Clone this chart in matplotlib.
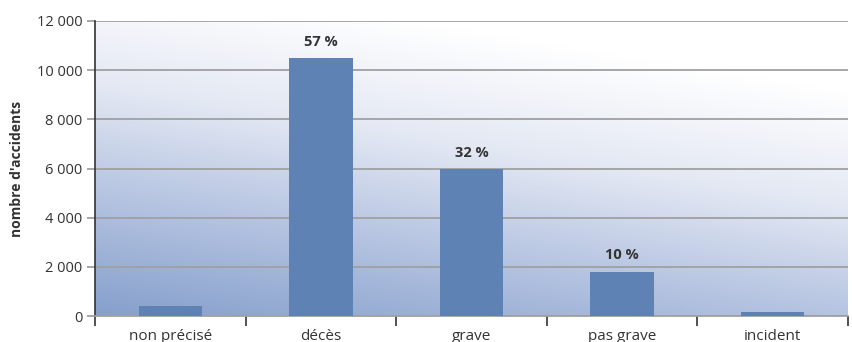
import numpy as np
import matplotlib.pyplot as plt
from matplotlib.colors import LinearSegmentedColormap

categories = ["non précisé", "décès", "grave", "pas grave", "incident"]
values = [410, 10490, 5960, 1800, 170]
pct_labels = ["", "57 %", "32 %", "10 %", ""]
y_ticks = [0, 2000, 4000, 6000, 8000, 10000, 12000]
y_tick_labels = ["0", "2 000", "4 000", "6 000", "8 000", "10 000", "12 000"]

plt.rcParams['font.family'] = ['Open Sans', 'DejaVu Sans']

fig = plt.figure(figsize=(8.52, 3.42), dpi=100)
ax = fig.add_axes([95 / 852, 26 / 342, 753 / 852, 295 / 342])

x = np.arange(len(categories))
ax.set_xlim(-0.5, len(categories) - 0.5)
ax.set_ylim(0, 12000)

# diagonal gradient background, blue at lower left fading to white at upper right
gx, gy = np.meshgrid(np.linspace(0, 1, 300), np.linspace(0, 1, 150))
t = np.clip(1 - (0.85 * gy + 0.35 * gx), 0, 1)
cmap = LinearSegmentedColormap.from_list("bg", ["#ffffff", "#e3e8f3", "#b3c2e0", "#86a0cc"])
ax.imshow(t, cmap=cmap, extent=[-0.5, len(categories) - 0.5, 0, 12000],
          origin="lower", aspect="auto", zorder=0, vmin=0, vmax=1)

ax.set_yticks(y_ticks)
ax.set_yticklabels(y_tick_labels)
ax.grid(axis="y", color="#a0a0a0", linewidth=1.3, zorder=1)
ax.tick_params(axis="y", length=6, color="#a0a0a0", width=1.3, labelsize=10.5,
               labelcolor="#333333", pad=3)

bars = ax.bar(x, values, width=0.42, color="#5f82b5", zorder=3)
for b, lab in zip(bars, pct_labels):
    if lab:
        ax.text(b.get_x() + b.get_width() / 2, b.get_height() + 380, lab,
                ha="center", va="bottom", fontsize=10.5, fontweight="bold",
                color="#333333", zorder=4)

# category boundaries carry the x ticks
ax.set_xticks(np.arange(-0.5, len(categories)), minor=False)
ax.set_xticklabels([])
ax.set_xticks(x, minor=True)
ax.set_xticklabels(categories, minor=True)
ax.tick_params(axis="x", which="major", length=7, color="#333333", width=1.2)
ax.tick_params(axis="x", which="minor", length=0, labelsize=11,
               labelcolor="#333333", pad=9)

ax.set_ylabel("nombre d'accidents", fontsize=10, fontweight="bold",
              color="#333333", labelpad=9)

for side in ["top", "right"]:
    ax.spines[side].set_visible(False)
ax.spines["left"].set_color("#333333")
ax.spines["left"].set_linewidth(1.2)
ax.spines["bottom"].set_color("#a0a0a0")
ax.spines["bottom"].set_linewidth(1.3)

fig.savefig("out.png", dpi=100)
